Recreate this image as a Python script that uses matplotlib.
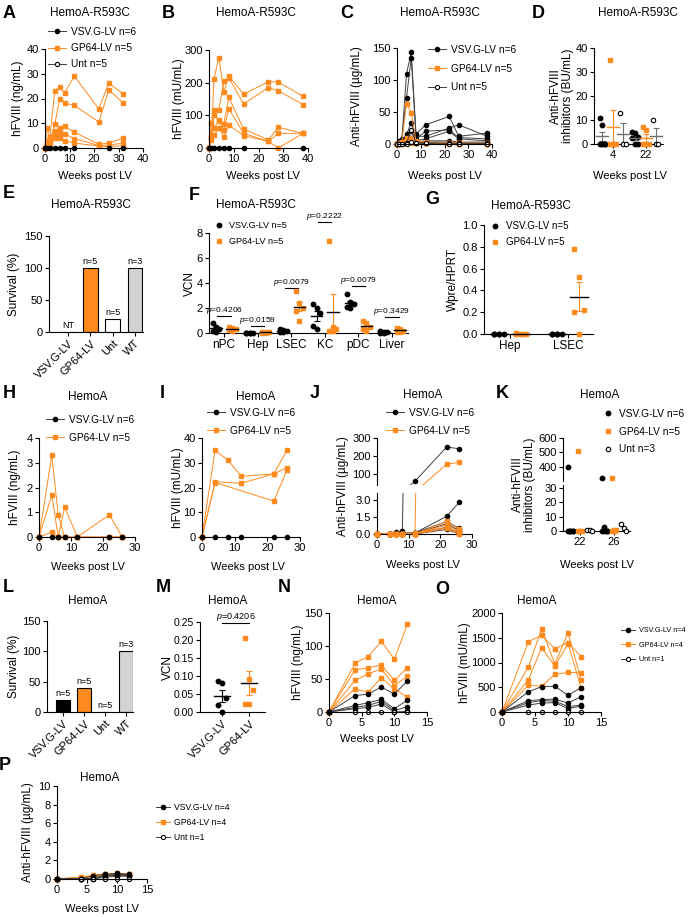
import numpy as np
import matplotlib
matplotlib.use('Agg')
import matplotlib.pyplot as plt
from matplotlib.lines import Line2D

plt.rcParams['font.family'] = ['Liberation Sans', 'DejaVu Sans']
plt.rcParams['mathtext.fontset'] = 'custom'
plt.rcParams['mathtext.it'] = 'Liberation Sans:italic'
plt.rcParams['mathtext.rm'] = 'Liberation Sans'
plt.rcParams['axes.linewidth'] = 0.8

# ---------------- data ----------------
# A  hFVIII ng/mL, HemoA-R593C
a_weeks = [0, 1, 2, 4, 6, 8, 12, 22, 26, 32]
a_gp64 = [[0, 3, 4.5, 23.2, 24.6, 22.3, 29.0, 15.8, 26.3, 21.8],
          [0, 2, 3.0, 9.5, 20.0, 18.2, 17.2, 10.5, 23.4, 18.2],
          [0, 8, 4.0, 7.0, 8.0, 8.7, 6.4, 1.5, 2.0, 4.0],
          [0, 2, 2.0, 5.0, 6.0, 5.8, 3.8, 1.0, 1.2, 2.0],
          [0, 1, 1.5, 4.0, 4.0, 3.0, 2.0, 0.8, 0.5, 1.0]]
a_vsv_weeks = [0, 1, 2, 4, 6, 8, 12, 26, 32]
a_vsv = [0, 0, 0, 0, 0, 0, 0, 0, 0]

# B  hFVIII mU/mL
b_weeks = [0, 1, 2, 4, 6, 8, 14, 24, 28, 38]
b_gp64 = [[0, 40, 212, 277, 172, 220, 165, 203, 202, 158],
          [0, 77, 115, 117, 205, 215, 135, 185, 175, 133],
          [0, 30, 100, 85, 75, 155, 58, 25, 63, 45],
          [0, 35, 62, 82, 55, 120, 45, 20, 45, 45],
          [0, 25, 40, 60, 35, 70, 38, 20, 0, 45]]
b_vsv_weeks = [0, 1, 2, 4, 6, 8, 14, 38]
b_vsv = [0, 0, 0, 0, 0, 0, 0, 0]

# C  anti-hFVIII ug/mL
c_weeks = [0, 1, 2, 4, 6, 8, 12, 22, 26, 38]
c_vsv = [[0, 5, 3, 110, 143, 15, 30, 43, 12, 17],
         [0, 3, 8, 72, 135, 12, 12, 25, 30, 12],
         [0, 2, 5, 15, 33, 8, 20, 22, 10, 8],
         [0, 1, 2, 12, 20, 5, 8, 20, 8, 5],
         [0, 1, 1, 8, 10, 3, 5, 5, 3, 3],
         [0, 0, 1, 5, 5, 2, 3, 3, 2, 1]]
c_gp64 = [[0, 2, 3, 63, 49, 5, 3, 2, 2, 1],
          [0, 1, 2, 10, 10, 3, 2, 2, 1, 1],
          [0, 1, 1, 5, 5, 2, 2, 1, 1, 0],
          [0, 0, 1, 3, 3, 1, 1, 1, 0, 0],
          [0, 0, 0, 2, 2, 1, 1, 0, 0, 0]]
c_unt = [[0, 0, 0, 1, 22, 2, 2, 1, 1, 1],
         [0, 0, 0, 0, 3, 1, 1, 0, 0, 0]]

# D  inhibitors BU/mL
d_cats = ['4', '22']
d_vsv = [[11, 8, 0, 0, 0, 0], [5, 4.5, 3, 2.5, 0, 0]]
d_gp64 = [[35, 0, 0, 0, 0], [7, 6, 0, 0, 0]]
d_unt = [[13, 0, 0], [10, 0, 0]]

# E  survival
e_groups = ['VSV.G-LV', 'GP64-LV', 'Unt', 'WT']
e_surv = [0, 100, 20, 100]
e_notes = ['NT', 'n=5', 'n=5', 'n=3']

# F  VCN
f_cats = ['nPC', 'Hep', 'LSEC', 'KC', 'pDC', 'Liver']
f_vsv = [[0.8, 0.45, 0.3, 0.2, 0.1], [0.03, 0.02, 0.02, 0.01, 0.0],
         [0.35, 0.25, 0.2, 0.1, 0.05], [2.3, 2.0, 1.6, 0.6, 0.3],
         [3.1, 2.5, 2.3, 2.1, 2.0], [0.15, 0.1, 0.05, 0.02, 0.0]]
f_gp64 = [[0.5, 0.4, 0.3, 0.25, 0.2], [0.1, 0.08, 0.05, 0.03, 0.0],
          [3.4, 2.4, 2.0, 1.8, 1.0], [7.4, 0.5, 0.3, 0.2, 0.2],
          [1.0, 0.8, 0.5, 0.3, 0.15], [0.4, 0.3, 0.2, 0.1, 0.05]]
f_pvals = ['0.4206', '0.0159', '0.0079', '0.2222', '0.0079', '0.3429']
f_bracket_y = [1.4, 0.6, 3.6, 8.9, 3.8, 1.3]

# G  Wpre/HPRT
g_cats = ['Hep', 'LSEC']
g_vsv = [[0, 0, 0, 0, 0], [0, 0, 0, 0, 0]]
g_gp64 = [[0.01, 0, 0, 0, 0], [0.78, 0.52, 0.22, 0.2, 0.0]]

# H  hFVIII ng/mL, HemoA
h_weeks = [0, 4, 6, 8, 12, 22, 26]
h_gp64 = [[0, 3.3, 0.9, 0, 0, 0, 0],
          [0, 1.7, 0, 1.2, 0, 0.9, 0],
          [0, 0.2, 0, 0, 0, 0, 0]]
h_vsv = [0, 0, 0, 0, 0, 0, 0]

# I  hFVIII mU/mL, HemoA
i_gp64_weeks = [[0, 4, 8, 12, 22, 26], [0, 4, 12, 22, 26], [0, 4, 22, 26]]
i_gp64 = [[0, 35, 31, 24.5, 25.5, 35], [0, 22.3, 21.7, 25.5, 28], [0, 22, 14.5, 27]]
i_vsv_weeks = [0, 4, 8, 12, 22, 26]
i_vsv = [0, 0, 0, 0, 0, 0]

# J  anti-hFVIII ug/mL, HemoA (broken axis)
j_weeks = [0, 4, 6, 8, 12, 22, 26]
j_vsv = [[0, 0, 0.05, 0.3, 60, 250, 240],
         [0, 0, 0.2, 0.1, 0.1, 1.55, 2.8],
         [0, 0, 0.1, 0, 0.1, 1.1, 0.5],
         [0, 0, 0, 0, 0.05, 0.9, 0.3],
         [0, 0, 0, 0, 0, 0.6, 0.1],
         [0, 0, 0, 0, 0, 0.4, 0]]
j_gp64 = [[0, 0, 0, 0, 0.1, 155, 165],
          [0, 0, 0, 0, 0, 1.1, 0.4],
          [0, 0, 0, 0, 0, 0.8, 0.2],
          [0, 0, 0, 0, 0, 0.6, 0.1],
          [0, 0, 0, 0, 0, 0.5, 0]]

# K  inhibitors BU/mL, HemoA (broken axis)
k_cats = ['22', '26']
k_vsv = [[400, 0, 0, 0, 0, 0], [320, 3, 0, 0, 0, 0]]
k_gp64 = [[510, 0, 0, 0, 0], [320, 1, 0.5, 0, 0]]
k_unt = [[1, 0.5, 0], [5, 2, 0]]

# L  survival, HemoA
l_surv = [20, 40, 0, 100]
l_notes = ['n=5', 'n=5', 'n=5', 'n=3']

# M  VCN, HemoA
m_groups = ['VSV.G-LV', 'GP64-LV']
m_vsv = [0.086, 0.08, 0.039, 0.019, 0.0]
m_gp64 = [0.205, 0.092, 0.061, 0.022, 0.022]

# N, O, P
nop_weeks = [0, 4, 6, 8, 10, 12]
n_gp64 = [[0, 74, 84, 107, 80, 133], [0, 64, 67, 71, 48, 67],
          [0, 48, 58, 65, 40, 54], [0, 35, 30, 52, 35, 22]]
n_vsv = [[0, 25, 27, 38, 27, 47], [0, 10, 14, 19, 5, 18],
         [0, 7, 10, 16, 2, 8], [0, 5, 7, 12, 0, 1]]
o_gp64 = [[0, 1420, 1550, 1280, 1400, 1120], [0, 910, 1680, 970, 1600, 640],
          [0, 650, 1300, 930, 1380, 480], [0, 540, 520, 760, 800, 790]]
o_vsv = [[0, 410, 510, 520, 340, 490], [0, 230, 250, 260, 180, 310],
         [0, 190, 230, 220, 110, 140], [0, 140, 180, 190, 70, 120]]
p_gp64 = [[0, 0.2, 0.4, 0.55, 0.6, 0.55], [0, 0.2, 0.35, 0.5, 0.5, 0.5],
          [0, 0.15, 0.3, 0.45, 0.45, 0.45], [0, 0.1, 0.25, 0.4, 0.4, 0.4]]
p_vsv = [[0, 0, 0.35, 0.5, 0.6, 0.5], [0, 0, 0.1, 0.4, 0.5, 0.45],
         [0, 0, 0, 0.3, 0.4, 0.4], [0, 0, 0, 0.2, 0.3, 0.3]]
nop_unt = [0, 0, 0, 0, 0, 0]

# ---------------- style ----------------
W, H = 695, 917
ORANGE = '#FF8A1E'
DARK = '#404040'
FS = 8.5      # titles / y labels
TFS = 8       # tick labels
LFS = 7.3     # legends

VSV = dict(color=DARK, lw=0.7, marker='o', ms=3, mfc='k', mec='k')
GP = dict(color=ORANGE, lw=0.7, marker='s', ms=3, mfc=ORANGE, mec=ORANGE)
UNT = dict(color=DARK, lw=0.7, marker='o', ms=3, mfc='white', mec='k', mew=0.8)
VSV_DOT = dict(ls='none', marker='o', ms=3.2, mfc='k', mec='k')
GP_DOT = dict(ls='none', marker='s', ms=3.2, mfc=ORANGE, mec=ORANGE)
UNT_DOT = dict(ls='none', marker='o', ms=3.2, mfc='white', mec='k', mew=0.8)

fig = plt.figure(figsize=(W / 100, H / 100), dpi=100)


def axbox(l, t, r, b, xlim, ylim):
    ax = fig.add_axes([l / W, 1 - b / H, (r - l) / W, (b - t) / H])
    ax.spines['top'].set_visible(False)
    ax.spines['right'].set_visible(False)
    ax.patch.set_alpha(0)
    ax.set_xlim(*xlim)
    ax.set_ylim(*ylim)
    ax.tick_params(labelsize=TFS, length=3, width=0.8, pad=1.5)
    return ax


def ftext(x, y, s, **kw):
    kw.setdefault('ha', 'center')
    kw.setdefault('va', 'center')
    kw.setdefault('fontsize', FS)
    fig.text(x / W, 1 - y / H, s, **kw)


def panel(letter, x, y, title, tx, ty):
    ftext(x, y, letter, fontsize=13, fontweight='bold')
    ftext(tx, ty, title)


def ylab(s, x, t, b, **kw):
    ftext(x, (t + b) / 2, s, rotation=90, **kw)


def xlab(x, y):
    ftext(x, y, 'Weeks post LV', fontsize=8)


def legend(ax, items, x, y, fs=LFS, sp=0.55, hl=1.8):
    hs = [Line2D([], [], label=lab, **st) for lab, st in items]
    ax.legend(handles=hs, loc='upper left', bbox_to_anchor=(x / W, 1 - y / H),
              bbox_transform=fig.transFigure, frameon=False, fontsize=fs,
              labelspacing=sp, handlelength=hl, handletextpad=0.5,
              borderpad=0, borderaxespad=0)


def dots(ax, x0, vals, st, err_color, mean_color='k', spread=0.1, half=0.18):
    vals = np.asarray(vals, dtype=float)
    n = len(vals)
    xs = x0 + ((np.arange(n) % 3) - 1) * spread
    ax.plot(xs, vals, clip_on=False, zorder=3, **st)
    m = vals.mean()
    se = vals.std(ddof=1) / np.sqrt(n)
    ax.errorbar(x0, m, yerr=se, color=err_color, capsize=2.5, lw=0.8,
                capthick=0.8, zorder=2, clip_on=False)
    ax.plot([x0 - half, x0 + half], [m, m], color=mean_color, lw=1, zorder=4,
            clip_on=False)


def pval(ax, x1, x2, y, s, fs=6):
    ax.plot([x1, x2], [y, y], color='k', lw=0.8, clip_on=False)
    ax.text((x1 + x2) / 2, y, '$p$=' + s, ha='center', va='bottom',
            fontsize=fs, clip_on=False)


def bars(ax, vals, notes, colors, fs=6.5):
    x = np.arange(len(vals))
    ax.bar(x, vals, width=0.65, color=colors, edgecolor='k', lw=0.8)
    for i, (v, s) in enumerate(zip(vals, notes)):
        ax.annotate(s, (i, v), xytext=(0, 1.5), textcoords='offset points',
                    ha='center', va='bottom', fontsize=fs)
    ax.set_xticks(x)
    ax.set_xticklabels(e_groups, rotation=45, ha='right', rotation_mode='anchor')


# ---------------- A ----------------
ax = axbox(45, 49, 143, 148, (0, 40), (0, 40))
for s in a_gp64:
    ax.plot(a_weeks, s, clip_on=False, **GP)
ax.plot(a_vsv_weeks, a_vsv, clip_on=False, **VSV)
ax.set_xticks([0, 10, 20, 30, 40])
ax.set_yticks([0, 10, 20, 30, 40])
legend(ax, [('VSV.G-LV n=6', VSV), ('GP64-LV n=5', GP), ('Unt n=5', UNT)], 48, 27, sp=0.6)
panel('A', 9, 13, 'HemoA-R593C', 90, 13)
ylab('hFVIII (ng/mL)', 18, 49, 148)
xlab(95, 176)

# ---------------- B ----------------
ax = axbox(209, 50, 308, 148, (0, 40), (0, 300))
for s in b_gp64:
    ax.plot(b_weeks, s, clip_on=False, **GP)
ax.plot(b_vsv_weeks, b_vsv, clip_on=False, **VSV)
ax.set_xticks([0, 10, 20, 30, 40])
ax.set_yticks([0, 100, 200, 300])
panel('B', 168, 13, 'HemoA-R593C', 256, 13)
ylab('hFVIII (mU/mL)', 179, 50, 148)
xlab(263, 176)

# ---------------- C ----------------
ax = axbox(397, 48, 492, 144, (0, 40), (0, 150))
for s in c_vsv:
    ax.plot(c_weeks, s, clip_on=False, **VSV)
for s in c_gp64:
    ax.plot(c_weeks, s, clip_on=False, **GP)
for s in c_unt:
    ax.plot(c_weeks, s, clip_on=False, **UNT)
ax.set_xticks([0, 10, 20, 30, 40])
ax.set_yticks([0, 50, 100, 150])
legend(ax, [('VSV.G-LV n=6', VSV), ('GP64-LV n=5', GP), ('Unt n=5', UNT)], 428, 45, sp=0.85)
panel('C', 347, 13, 'HemoA-R593C', 440, 13)
ylab('Anti-hFVIII (µg/mL)', 357, 48, 144)
xlab(445, 176)

# ---------------- D ----------------
ax = axbox(594, 48, 663, 144, (-0.58, 1.52), (0, 40))
for i in range(2):
    dots(ax, i - 0.33, d_vsv[i], VSV_DOT, '#707070', '#707070', spread=0.08)
    dots(ax, i, d_gp64[i], GP_DOT, ORANGE, ORANGE, spread=0.08)
    dots(ax, i + 0.3, d_unt[i], UNT_DOT, '#707070', '#707070', spread=0.08)
ax.set_xticks([0, 1])
ax.set_xticklabels(d_cats)
ax.set_yticks([0, 10, 20, 30, 40])
panel('D', 538, 13, 'HemoA-R593C', 638, 13)
ylab('Anti-hFVIII\ninhibitors (BU/mL)', 562, 48, 144, linespacing=1.0)
xlab(630, 176)

# ---------------- E ----------------
ax = axbox(49, 236, 143, 332, (-0.85, 3.36), (0, 150))
bars(ax, e_surv, e_notes, ['k', ORANGE, 'white', '#d3d3d3'])
ax.set_yticks([0, 50, 100, 150])
panel('E', 9, 194, 'HemoA-R593C', 91, 205)
ylab('Survival (%)', 14, 236, 332)

# ---------------- F ----------------
ax = axbox(209, 233, 408, 333, (-0.45, 5.48), (0, 8))
for i in range(6):
    dots(ax, i - 0.24, f_vsv[i], VSV_DOT, 'k', spread=0.1, half=0.17)
    dots(ax, i + 0.24, f_gp64[i], GP_DOT, ORANGE, spread=0.1, half=0.17)
    pval(ax, i - 0.2, i + 0.2, f_bracket_y[i], f_pvals[i])
ax.set_xticks(range(6))
ax.set_xticklabels(f_cats, fontsize=8.5)
ax.set_yticks([0, 2, 4, 6, 8])
legend(ax, [('VSV.G-LV n=5', VSV_DOT), ('GP64-LV n=5', GP_DOT)], 214, 221, fs=6.5, sp=0.75, hl=1.2)
panel('F', 194, 195, 'HemoA-R593C', 256, 205)
ylab('VCN', 190, 233, 333)

# ---------------- G ----------------
ax = axbox(484, 225, 593, 334, (-0.45, 1.43), (0, 1))
for i in range(2):
    dots(ax, i - 0.19, g_vsv[i], VSV_DOT, 'k', spread=0.09, half=0.15)
    dots(ax, i + 0.19, g_gp64[i], GP_DOT, ORANGE, spread=0.09, half=0.15)
ax.set_xticks([0, 1])
ax.set_xticklabels(g_cats, fontsize=8.5)
ax.set_yticks([0, 0.2, 0.4, 0.6, 0.8, 1.0])
ax.set_yticklabels(['0.0', '0.2', '0.4', '0.6', '0.8', '1.0'])
legend(ax, [('VSV.G-LV n=5', VSV_DOT), ('GP64-LV n=5', GP_DOT)], 489, 221, fs=7, sp=0.65, hl=1.2)
panel('G', 432, 200, 'HemoA-R593C', 531, 206)
ylab('Wpre/HPRT', 453, 225, 334)

# ---------------- H ----------------
ax = axbox(39, 438, 135, 537, (0, 30), (0, 4))
for s in h_gp64:
    ax.plot(h_weeks, s, clip_on=False, **GP)
ax.plot(h_weeks, h_vsv, clip_on=False, **VSV)
ax.set_xticks([0, 10, 20, 30])
ax.set_yticks([0, 1, 2, 3, 4])
legend(ax, [('VSV.G-LV n=6', VSV), ('GP64-LV n=5', GP)], 46, 415, sp=0.75)
panel('H', 9, 393, 'HemoA', 88, 397)
ylab('hFVIII (ng/mL)', 15, 438, 537)
xlab(88, 567)

# ---------------- I ----------------
ax = axbox(202, 438, 300, 537, (0, 30), (0, 40))
for w, s in zip(i_gp64_weeks, i_gp64):
    ax.plot(w, s, clip_on=False, **GP)
ax.plot(i_vsv_weeks, i_vsv, clip_on=False, **VSV)
ax.set_xticks([0, 10, 20, 30])
ax.set_yticks([0, 10, 20, 30, 40])
legend(ax, [('VSV.G-LV n=6', VSV), ('GP64-LV n=5', GP)], 207, 408, sp=0.75)
panel('I', 162, 393, 'HemoA', 256, 397)
ylab('hFVIII (mU/mL)', 178, 438, 537)
xlab(248, 567)

# ---------------- J (broken y axis) ----------------
jt = axbox(377, 438, 472, 485, (0, 30), (39, 300))
jb = axbox(377, 493, 472, 534, (0, 30), (0, 3.6))
jt.spines['bottom'].set_visible(False)
jt.set_xticks([])
for part, lo, hi in ((jt, 39, 300), (jb, 0, 3.6)):
    for group, st in ((j_vsv, VSV), (j_gp64, GP)):
        for s in group:
            s = np.asarray(s, dtype=float)
            w = np.asarray(j_weeks, dtype=float)
            part.plot(w, s, color=st['color'], lw=st['lw'])
            keep = (s >= lo) & (s <= hi)
            part.plot(w[keep], s[keep], ls='none', clip_on=False, zorder=3,
                      marker=st['marker'], ms=st['ms'], mfc=st['mfc'], mec=st['mec'])
jt.set_yticks([100, 200, 300])
jb.set_yticks([0, 1.5, 3.0])
jb.set_yticklabels(['0.0', '1.5', '3.0'])
jb.set_xticks([0, 10, 20, 30])
legend(jt, [('VSV.G-LV n=6', VSV), ('GP64-LV n=5', GP)], 386, 408, sp=0.75)
panel('J', 315, 393, 'HemoA', 423, 395)
ylab('Anti-hFVIII (µg/mL)', 343, 438, 534)
xlab(423, 565)

# ---------------- K (broken y axis) ----------------
kt = axbox(563, 438, 630, 481, (-0.5, 1.47), (300, 600))
kb = axbox(563, 485, 630, 531, (-0.5, 1.47), (0, 32))
kt.spines['bottom'].set_visible(False)
kt.set_xticks([])
for part, lo, hi in ((kt, 300, 600), (kb, 0, 32)):
    for i in range(2):
        for off, group, st in ((-0.29, k_vsv, VSV_DOT), (0, k_gp64, GP_DOT),
                               (0.29, k_unt, UNT_DOT)):
            v = np.asarray(group[i], dtype=float)
            xs = i + off + ((np.arange(len(v)) % 3) - 1) * 0.07
            keep = (v >= lo) & (v <= hi)
            part.plot(xs[keep], v[keep], clip_on=False, zorder=3, **st)
kt.set_yticks([400, 500, 600])
kb.set_yticks([0, 10, 20, 30])
kb.set_xticks([0, 1])
kb.set_xticklabels(k_cats)
legend(kt, [('VSV.G-LV n=6', VSV_DOT), ('GP64-LV n=5', GP_DOT), ('Unt n=3', UNT_DOT)],
       602, 409, sp=0.75, hl=1.2)
panel('K', 502, 393, 'HemoA', 600, 395)
ylab('Anti-hFVIII\ninhibitors (BU/mL)', 524, 438, 531, linespacing=1.0)
xlab(597, 565)

# ---------------- L ----------------
ax = axbox(47, 621, 133, 712, (-0.76, 3.33), (0, 150))
bars(ax, l_surv, l_notes, ['k', ORANGE, 'white', '#d3d3d3'])
ax.set_yticks([0, 50, 100, 150])
panel('L', 8, 588, 'HemoA', 88, 601)
ylab('Survival (%)', 14, 621, 712)

# ---------------- M ----------------
ax = axbox(200, 622, 265, 712, (-0.81, 1.59), (0, 0.25))
dots(ax, 0, m_vsv, VSV_DOT, 'k', spread=0.15, half=0.3)
dots(ax, 1, m_gp64, GP_DOT, ORANGE, spread=0.15, half=0.3)
pval(ax, 0, 1, 0.247, '0.4206', fs=6.5)
ax.set_xticks([0, 1])
ax.set_xticklabels(m_groups, rotation=45, ha='right', rotation_mode='anchor')
ax.set_yticks([0, 0.05, 0.10, 0.15, 0.20, 0.25])
ax.set_yticklabels(['0.00', '0.05', '0.10', '0.15', '0.20', '0.25'])
ax.tick_params(axis='y', labelsize=7.5)
panel('M', 163, 588, 'HemoA', 228, 601)
ylab('VCN', 168, 622, 712)

# ---------------- N ----------------
ax = axbox(329, 613, 427, 712, (0, 15), (0, 150))
for s in n_gp64:
    ax.plot(nop_weeks, s, clip_on=False, **GP)
for s in n_vsv:
    ax.plot(nop_weeks, s, clip_on=False, **VSV)
ax.plot(nop_weeks[1:], nop_unt[1:], clip_on=False, **UNT)
ax.set_xticks([0, 5, 10, 15])
ax.set_yticks([0, 50, 100, 150])
panel('N', 284, 588, 'HemoA', 377, 601)
ylab('hFVIII (ng/mL)', 298, 613, 712)
xlab(377, 739)

# ---------------- O ----------------
ax = axbox(502, 613, 601, 712, (0, 15), (0, 2000))
for s in o_gp64:
    ax.plot(nop_weeks, s, clip_on=False, **GP)
for s in o_vsv:
    ax.plot(nop_weeks, s, clip_on=False, **VSV)
ax.plot(nop_weeks[1:], nop_unt[1:], clip_on=False, **UNT)
ax.set_xticks([0, 5, 10, 15])
ax.set_yticks([0, 500, 1000, 1500, 2000])
legend(ax, [('VSV.G-LV n=4', VSV), ('GP64-LV n=4', GP), ('Unt n=1', UNT)],
       621, 627, fs=5.2, sp=1.05, hl=2.0)
panel('O', 442, 590, 'HemoA', 537, 601)
ylab('hFVIII (mU/mL)', 465, 613, 712)

# ---------------- P ----------------
ax = axbox(57, 786, 147, 879, (0, 15), (0, 10))
for s in p_gp64:
    ax.plot(nop_weeks, s, clip_on=False, **GP)
for s in p_vsv:
    ax.plot(nop_weeks, s, clip_on=False, **VSV)
ax.plot(nop_weeks[1:], nop_unt[1:], clip_on=False, **UNT)
ax.set_xticks([0, 5, 10, 15])
ax.set_yticks([0, 2, 4, 6, 8, 10])
legend(ax, [('VSV.G-LV n=4', VSV), ('GP64-LV n=4', GP), ('Unt n=1', UNT)],
       156, 803, fs=6.2, sp=0.7, hl=1.6)
panel('P', 5, 765, 'HemoA', 100, 778)
ylab('Anti-hFVIII (µg/mL)', 28, 786, 879)
xlab(102, 909)

fig.savefig('out.png', dpi=100, facecolor='white')
